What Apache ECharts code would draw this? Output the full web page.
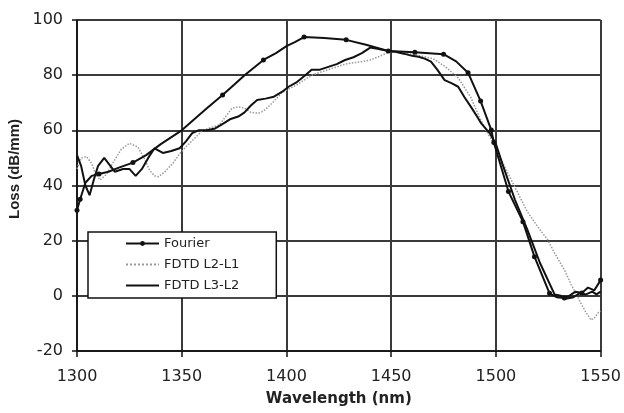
<!DOCTYPE html>
<html>
<head>
<meta charset="utf-8">
<script src="https://cdn.jsdelivr.net/npm/echarts@6/dist/echarts.min.js"></script>
<style>
  html, body { margin: 0; padding: 0; background: #fff; }
  #chart { width: 624px; height: 413px; }
</style>
</head>
<body>
<div id="chart"></div>
<script>
// Axis ticks
const xTicks = [1300, 1350, 1400, 1450, 1500, 1550];
const yTicks = [-20, 0, 20, 40, 60, 80, 100];

// Fourier curve (wavelength in nm, loss in dB/mm)
const fourierWl = [1300, 1301.5, 1304, 1307, 1310.5, 1315, 1320, 1326.7, 1333, 1340, 1346, 1350, 1356, 1362, 1369.5, 1375, 1380, 1389, 1395, 1400, 1404, 1408.4, 1418, 1428.5, 1438, 1448.6, 1461.3, 1475, 1481, 1486.7, 1492.7, 1497.8, 1499, 1506, 1512.9, 1518.4, 1525.6, 1529, 1532.7, 1535, 1538, 1541, 1544, 1547, 1550];
const fourierLoss = [31, 35, 41, 43.5, 44.2, 45, 46.5, 48.3, 51, 55, 58, 60, 64, 68, 72.8, 76.5, 80, 85.5, 88, 90.5, 92, 93.8, 93.5, 92.8, 91, 88.8, 88.3, 87.6, 85, 80.9, 70.6, 60.1, 55.6, 37.8, 26.9, 14.2, 0.9, -0.5, -0.8, 0, 1.5, 1, 3, 2, 5.7];
// Wavelengths where the Fourier samples carry a dot marker
const fourierDots = [1300, 1301.5, 1310.5, 1326.7, 1369.5, 1389, 1408.4, 1428.5, 1448.6, 1461.3, 1475, 1486.7, 1492.7, 1497.8, 1499, 1506, 1512.9, 1518.4, 1525.6, 1532.7, 1541, 1550];

// FDTD L2-L1 curve
const l2l1Wl = [1300, 1302, 1304.5, 1307, 1309, 1311, 1314, 1317, 1321, 1325, 1329, 1332, 1334.6, 1337, 1339, 1342, 1345.7, 1349, 1352, 1356, 1360, 1364, 1368, 1371, 1374, 1377, 1380, 1383, 1386.7, 1389, 1391.4, 1394, 1397.6, 1401, 1405, 1409, 1412, 1416, 1420, 1424, 1428, 1432, 1436, 1440, 1444, 1448, 1452, 1456, 1460, 1464, 1470, 1476, 1482, 1488, 1492, 1496, 1500, 1504, 1508, 1512, 1515, 1520, 1524.8, 1528, 1532.7, 1536, 1540.6, 1543, 1545.4, 1547, 1549, 1550];
const l2l1Loss = [46, 50, 50.5, 48, 44, 42, 44, 48, 53, 55.3, 54, 50, 45.6, 43.5, 43.2, 45, 48, 51.5, 54, 57, 60, 61, 62, 65, 68, 68.5, 68, 66.5, 66.2, 67, 68.6, 70.5, 73.5, 75, 76.5, 78.5, 80, 81, 82, 83, 84, 84.5, 84.9, 85.5, 86.7, 88, 88.5, 88, 87.5, 87, 86, 83, 79, 72, 65, 59, 54, 47, 41, 35, 30.5, 25, 20.2, 15.5, 9.4, 4, -2.7, -6, -8.8, -8, -6, -5.5];

// FDTD L3-L2 curve
const l3l2Wl = [1300, 1302, 1304, 1306, 1308, 1310, 1313, 1316, 1318, 1322, 1325, 1328, 1331, 1334, 1337, 1341, 1345, 1349, 1352, 1355, 1358, 1362, 1366, 1370, 1373, 1377, 1380, 1383, 1386, 1390, 1394, 1398, 1401, 1405, 1409, 1412, 1416, 1420, 1424, 1428, 1432, 1436, 1440, 1444, 1448, 1452, 1456, 1460, 1463, 1466, 1469, 1472, 1475.5, 1479, 1482, 1485, 1488, 1491, 1493, 1497, 1500, 1503, 1509, 1515, 1521, 1528, 1531, 1534, 1537, 1540, 1543, 1546, 1548, 1550];
const l3l2Loss = [51, 47, 40, 36.5, 42, 47, 50, 47, 45, 46, 46, 43.5, 46, 50, 53.5, 51.8, 52.5, 53.5, 56, 59, 60, 60, 60.7, 62.5, 64, 65, 66.5, 69, 71, 71.5, 72.2, 74, 75.8, 77.5, 80, 82, 82, 83, 84, 85.5, 86.5, 88, 90, 89.5, 88.8, 88.5, 87.8, 87, 86.7, 86, 84.9, 82, 78.2, 77, 75.8, 72, 68.6, 65, 62.5, 59, 55, 48, 35, 24, 12, 0.5, 0, -1, -0.5, 1, 0.5, 1.5, 0.5, 1.5];

const zip = (xs, ys) => xs.map((x, i) => [x, ys[i]]);

const fourierData = fourierWl.map((x, i) => ({
  value: [x, fourierLoss[i]],
  symbol: fourierDots.includes(x) ? 'circle' : 'none'
}));

const chart = echarts.init(document.getElementById('chart'), null, { renderer: 'canvas' });

const tickFont = { fontFamily: 'DejaVu Sans', fontSize: 16, color: '#222' };
// plain-line legend entries: hide the symbol that line legends draw by default
const noMarker = { color: 'rgba(0,0,0,0)', borderWidth: 0 };

chart.setOption({
  animation: false,
  backgroundColor: '#fff',
  grid: { left: 77, right: 21, top: 20, bottom: 62, containLabel: false },
  xAxis: {
    type: 'value',
    min: xTicks[0],
    max: xTicks[xTicks.length - 1],
    interval: 50,
    name: 'Wavelength (nm)',
    nameLocation: 'middle',
    nameGap: 41,
    nameTextStyle: { fontFamily: 'DejaVu Sans', fontWeight: 'bold', fontSize: 15, color: '#222' },
    axisLine: { show: true, onZero: false, lineStyle: { color: '#111', width: 1.5 } },
    axisTick: { show: true, length: 6, lineStyle: { color: '#111', width: 1.5 } },
    axisLabel: Object.assign({ margin: 18, formatter: v => String(v) }, tickFont),
    splitLine: { show: true, lineStyle: { color: '#3a3a3a', width: 2 } }
  },
  yAxis: {
    type: 'value',
    min: yTicks[0],
    max: yTicks[yTicks.length - 1],
    interval: 20,
    axisLine: { show: true, onZero: false, lineStyle: { color: '#111', width: 1.5 } },
    axisTick: { show: true, length: 5, lineStyle: { color: '#111', width: 1.5 } },
    axisLabel: Object.assign({ margin: 14, formatter: v => String(v) }, tickFont),
    splitLine: { show: true, lineStyle: { color: '#3a3a3a', width: 2 } }
  },
  legend: {
    orient: 'vertical',
    left: 88,
    top: 232,
    padding: [4, 37, 5, 37],
    itemWidth: 33,
    itemHeight: 6,
    itemGap: 6,
    backgroundColor: '#fff',
    borderColor: '#111',
    borderWidth: 1.5,
    borderRadius: 0,
    textStyle: { fontFamily: 'DejaVu Sans', fontSize: 13, lineHeight: 15, color: '#222' },
    data: [
      { name: 'Fourier' },
      { name: 'FDTD L2-L1', itemStyle: noMarker },
      { name: 'FDTD L3-L2', itemStyle: noMarker }
    ]
  },
  graphic: [{
    type: 'text',
    x: 15,
    y: 169,
    rotation: Math.PI / 2,
    style: {
      text: 'Loss (dB/mm)',
      fontFamily: 'Liberation Sans',
      fontWeight: 'bold',
      fontSize: 15,
      fill: '#222',
      align: 'center',
      verticalAlign: 'middle'
    }
  }],
  series: [
    {
      name: 'FDTD L2-L1',
      type: 'line',
      data: zip(l2l1Wl, l2l1Loss),
      showSymbol: false,
      symbol: 'none',
      lineStyle: { color: '#999', width: 1.5, type: 'dotted' },
      itemStyle: { color: '#999' },
      z: 2
    },
    {
      name: 'FDTD L3-L2',
      type: 'line',
      data: zip(l3l2Wl, l3l2Loss),
      showSymbol: false,
      symbol: 'none',
      lineStyle: { color: '#111', width: 2 },
      itemStyle: { color: '#111' },
      z: 3
    },
    {
      name: 'Fourier',
      type: 'line',
      data: fourierData,
      symbol: 'circle',
      symbolSize: 5,
      lineStyle: { color: '#111', width: 2 },
      itemStyle: { color: '#111' },
      z: 4
    }
  ]
});
</script>
</body>
</html>
